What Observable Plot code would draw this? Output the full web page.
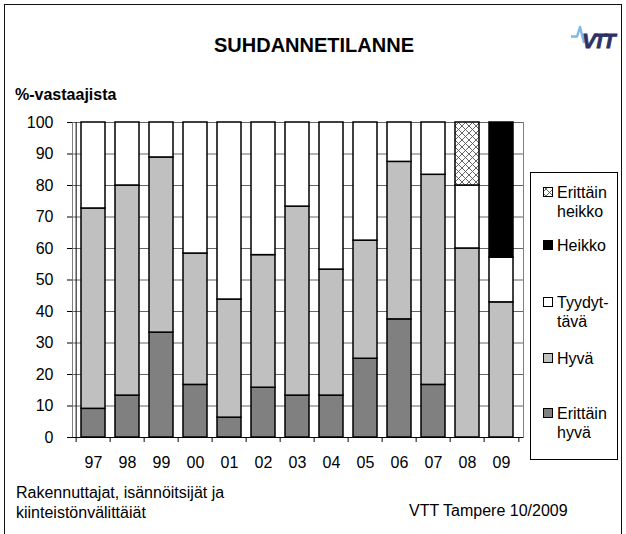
<!DOCTYPE html>
<html>
<head>
<meta charset="utf-8">
<script src="https://cdn.jsdelivr.net/npm/d3@7"></script>
<script src="https://cdn.jsdelivr.net/npm/@observablehq/plot@0.6"></script>
<style>
  body { margin: 0; background: #fff; }
  #wrap { position: relative; width: 626px; height: 534px; overflow: hidden; font-family: "Liberation Sans", Arial, sans-serif; }
  #wrap svg { position: absolute; left: 0; top: 0; }
</style>
</head>
<body>
<div id="wrap">
  <svg id="deco" width="626" height="534" font-family="Liberation Sans, Arial, sans-serif">
    <defs>
      <pattern id="hatch" width="7" height="7" patternUnits="userSpaceOnUse">
        <rect width="7" height="7" fill="#fff"/>
        <path d="M0,0L7,7M7,0L0,7" stroke="#555" stroke-width="0.9"/>
      </pattern>
    </defs>
    <rect x="4.5" y="4.5" width="617" height="600" fill="none" stroke="#111" stroke-width="1"/>
  </svg>
</div>
<script>
const years = ["97","98","99","00","01","02","03","04","05","06","07","08","09"];
const categories = ["Erittäin hyvä","Hyvä","Tyydyttävä","Heikko","Erittäin heikko"];
const erittainHyva   = [9.1, 13.3, 33.3, 16.7, 6.3, 15.8, 13.3, 13.3, 25.0, 37.5, 16.7, 0, 0];
const hyva           = [63.6, 66.7, 55.6, 41.7, 37.5, 42.1, 60.0, 40.0, 37.5, 50.0, 66.7, 60.0, 42.9];
const tyydyttava     = [27.3, 20.0, 11.1, 41.6, 56.2, 42.1, 26.7, 46.7, 37.5, 12.5, 16.6, 20.0, 14.2];
const heikko         = [0, 0, 0, 0, 0, 0, 0, 0, 0, 0, 0, 0, 42.9];
const erittainHeikko = [0, 0, 0, 0, 0, 0, 0, 0, 0, 0, 0, 20.0, 0];
const yTicks = [0, 10, 20, 30, 40, 50, 60, 70, 80, 90, 100];
const fills = ["#808080", "#c0c0c0", "#ffffff", "#000000", "url(#hatch)"];
const legendLines = [
  ["Erittäin", "heikko"], ["Heikko"], ["Tyydyt-", "tävä"], ["Hyvä"], ["Erittäin", "hyvä"]
];
const legendFillIdx = [4, 3, 2, 1, 0];

const series = [erittainHyva, hyva, tyydyttava, heikko, erittainHeikko];
const rows = [];
years.forEach((yr, i) => {
  series.forEach((s, k) => { if (s[i] > 0) rows.push({year: yr, cat: categories[k], value: s[i]}); });
});

const pLeft = 72, pRight = 523, pTop = 122, pBottom = 437;
const step = (pRight - pLeft) / years.length;
const pad = 0.28;

const chart = Plot.plot({
  width: 626, height: 534,
  marginLeft: pLeft, marginRight: 626 - pRight, marginTop: pTop, marginBottom: 534 - pBottom,
  style: {fontFamily: "'Liberation Sans', Arial, sans-serif", fontSize: "16px", color: "#000", background: "transparent", overflow: "visible"},
  x: {domain: years, paddingInner: pad, paddingOuter: pad / 2, label: null},
  y: {domain: [0, 100], label: null},
  color: {type: "ordinal", domain: categories, range: fills},
  marks: [
    Plot.frame({stroke: "#808080"}),
    Plot.ruleY(yTicks.slice(1), {stroke: "#666"}),
    Plot.barY(rows, {x: "year", y: "value", fill: "cat", order: categories, stroke: "#000", strokeWidth: 1.5}),
    Plot.ruleY([0], {stroke: "#000"}),
    Plot.ruleX([years[0]], {x: d => d, dx: -step / 2, y1: 0, y2: 100, stroke: "#000"}),
    Plot.ruleX(years, {x: d => d, dx: -step / 2, y1: 0, y2: 0, insetBottom: -5, stroke: "#000"}),
    Plot.ruleX([years[years.length - 1]], {x: d => d, dx: step / 2, y1: 0, y2: 0, insetBottom: -5, stroke: "#000"}),
    Plot.axisY({ticks: yTicks, tickSize: 5, tickPadding: 14, fontSize: 16, label: null}),
    Plot.axisX({tickSize: 0, tickPadding: 19, fontSize: 16, label: null})
  ]
});
document.getElementById("wrap").appendChild(chart);

// overlay texts, legend and logo
const over = d3.select("#wrap").append("svg").attr("width", 626).attr("height", 534)
  .attr("font-family", "Liberation Sans, Arial, sans-serif");
over.append("text").attr("x", 314).attr("y", 52).attr("text-anchor", "middle")
  .attr("font-weight", "bold").attr("font-size", 20).text("SUHDANNETILANNE");
over.append("text").attr("x", 15).attr("y", 100)
  .attr("font-weight", "bold").attr("font-size", 16).text("%-vastaajista");
over.append("text").attr("x", 16).attr("y", 498).attr("font-size", 16).text("Rakennuttajat, isännöitsijät ja");
over.append("text").attr("x", 16).attr("y", 518).attr("font-size", 16).text("kiinteistönvälittäiät");
over.append("text").attr("x", 409).attr("y", 516).attr("font-size", 16).text("VTT Tampere 10/2009");

// legend
over.append("rect").attr("x", 530.5).attr("y", 172.5).attr("width", 87).attr("height", 287)
  .attr("fill", "#fff").attr("stroke", "#000");
const legendBase = [198, 251, 308, 364, 419];
legendLines.forEach((lines, i) => {
  const b = legendBase[i];
  over.append("rect").attr("x", 543.5).attr("y", b - 10.5).attr("width", 9).attr("height", 9)
    .attr("fill", fills[legendFillIdx[i]]).attr("stroke", "#000");
  lines.forEach((t, j) => {
    over.append("text").attr("x", 557).attr("y", b + j * 19).attr("font-size", 16).text(t);
  });
});

// logo
over.append("path").attr("d", "M571,36.5 L577,36.5 L580,27 L584,43").attr("fill", "none")
  .attr("stroke", "#7fb8e2").attr("stroke-width", 2.4).attr("stroke-linejoin", "round");
over.append("text").attr("x", 582).attr("y", 48).attr("font-size", 21).attr("font-weight", "bold")
  .attr("font-style", "italic").attr("fill", "#2d3166").attr("letter-spacing", -2.5)
  .attr("stroke", "#2d3166").attr("stroke-width", 0.8).attr("textLength", 31).text("VTT");
</script>
</body>
</html>
